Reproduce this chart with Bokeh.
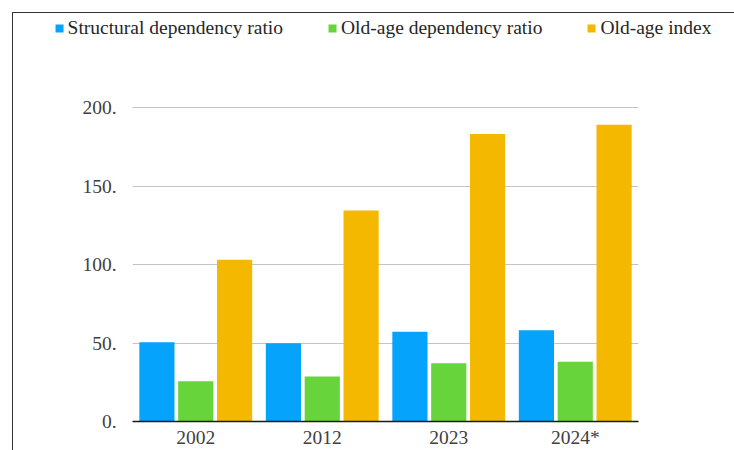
from bokeh.plotting import figure
from bokeh.models import (FactorRange, Range1d, FixedTicker, PrintfTickFormatter,
                          ColumnDataSource, Legend, LegendItem)
from bokeh.transform import dodge
from bokeh.embed import file_html
from bokeh.resources import INLINE

years = ["2002", "2012", "2023", "2024*"]
structural = [50.5, 49.9, 57.1, 58.2]
old_age_dep = [25.7, 28.7, 37.1, 38.0]
old_age_index = [103.0, 134.4, 183.2, 189.0]
series_names = ["Structural dependency ratio", "Old-age dependency ratio", "Old-age index"]
y_ticks = [0, 50, 100, 150, 200]

colors = ["#05a3fb", "#66d43a", "#f5b800"]
FONT = "Liberation Serif"
LINE = "linear-gradient(#333333, #333333)"

source = ColumnDataSource(dict(years=years, s=structural, d=old_age_dep, i=old_age_index))

# ---- header strip with the legend; the frame corner line is painted behind it ----
head = figure(width=734, height=90, output_backend="svg", toolbar_location=None,
              x_range=Range1d(0, 1), y_range=Range1d(0, 1),
              x_axis_location=None, y_axis_location=None,
              min_border_left=31, min_border_right=0, min_border_top=0, min_border_bottom=0,
              styles={"background-color": "white",
                      "background-image": f"{LINE}, {LINE}",
                      "background-size": "1px 100%, 100% 1px",
                      "background-position": "12px 12px, 12px 12px",
                      "background-repeat": "no-repeat"})
head.grid.visible = False
head.outline_line_color = None
head.background_fill_color = None
head.border_fill_color = None

# swatch renderers sit outside the visible range; only their legend keys show
swatches = [head.vbar(x=[5], top=[0.5], width=0.1, color=c, line_color=None) for c in colors]
legend = Legend(items=[LegendItem(label=n, renderers=[r]) for n, r in zip(series_names, swatches)],
                orientation="horizontal", location="top_center",
                glyph_width=10, glyph_height=10, label_standoff=4, spacing=44,
                padding=0, margin=17, border_line_color=None, background_fill_alpha=0,
                label_text_font=FONT, label_text_font_size="19.5px",
                label_text_color="#262626")
head.add_layout(legend, "center")

# ---- bar chart ----
p = figure(width=734, height=360, output_backend="svg", toolbar_location=None,
           x_range=FactorRange(*years, range_padding=0), y_range=Range1d(0, 205.1),
           min_border_left=132, min_border_right=96, min_border_top=9, min_border_bottom=29,
           styles={"background-color": "white",
                   "background-image": LINE,
                   "background-size": "1px 100%",
                   "background-position": "12px 0px",
                   "background-repeat": "no-repeat"})
p.outline_line_color = None
p.background_fill_color = "white"
p.border_fill_color = None

bw = 0.278
off = 0.307
p.vbar(x=dodge("years", -off, range=p.x_range), top="s", width=bw, source=source,
       color=colors[0], line_color=None)
p.vbar(x=dodge("years", 0.0, range=p.x_range), top="d", width=bw, source=source,
       color=colors[1], line_color=None)
p.vbar(x=dodge("years", off, range=p.x_range), top="i", width=bw, source=source,
       color=colors[2], line_color=None)

# y axis: labels only, with trailing dot
p.yaxis.ticker = FixedTicker(ticks=y_ticks)
p.yaxis.formatter = PrintfTickFormatter(format="%d.")
p.yaxis.axis_line_color = None
p.yaxis.major_tick_line_color = None
p.yaxis.minor_tick_line_color = None
p.yaxis.major_tick_out = 0
p.yaxis.major_label_standoff = 16
p.yaxis.major_label_text_font = FONT
p.yaxis.major_label_text_font_size = "19.5px"
p.yaxis.major_label_text_color = "#404040"

p.ygrid.ticker = FixedTicker(ticks=y_ticks)
p.ygrid.grid_line_color = "#c4c4c4"
p.ygrid.grid_line_width = 1
p.xgrid.grid_line_color = None

# x axis: dark baseline and year labels
p.xaxis.axis_line_color = "#1a1a1a"
p.xaxis.axis_line_width = 1.5
p.xaxis.major_tick_line_color = None
p.xaxis.minor_tick_line_color = None
p.xaxis.major_tick_out = 0
p.xaxis.major_tick_in = 0
p.xaxis.major_label_standoff = 5
p.xaxis.major_label_text_font = FONT
p.xaxis.major_label_text_font_size = "19.5px"
p.xaxis.major_label_text_color = "#404040"

# header and chart are stacked as two independent roots so their frames stay unaligned
open("out.html", "w").write(file_html([head, p], INLINE))
